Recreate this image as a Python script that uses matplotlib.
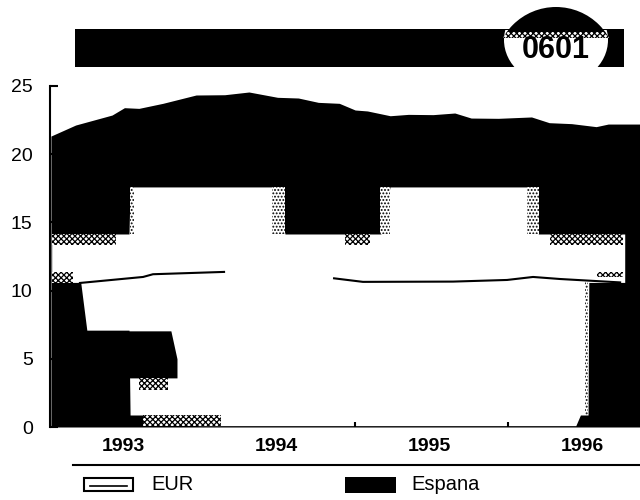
import matplotlib
matplotlib.use('Agg')
import matplotlib.pyplot as plt
import matplotlib.patches as mpatches

plt.rcParams['font.family'] = ['Liberation Sans', 'DejaVu Sans']
plt.rcParams['hatch.linewidth'] = 0.9

years = [1993, 1994, 1995, 1996]
y_ticks = [0, 5, 10, 15, 20, 25]

# gorna krawedz czarnego pola
espana_x = [1992.525, 1992.687, 1992.925, 1993.006, 1993.101, 1993.258, 1993.475, 1993.662, 1993.821,
            1994.008, 1994.144, 1994.275, 1994.412, 1994.516, 1994.596, 1994.745, 1994.864, 1995.026,
            1995.168, 1995.275, 1995.453, 1995.670, 1995.786, 1995.932, 1996.093, 1996.172, 1996.383]
espana_y = [21.33, 22.14, 22.87, 23.41, 23.36, 23.73, 24.34, 24.36, 24.56,
            24.17, 24.12, 23.8, 23.73, 23.24, 23.17, 22.82, 22.92, 22.9,
            23.02, 22.65, 22.63, 22.73, 22.31, 22.24, 22.02, 22.21, 22.21]

# biale pole
hole_x = [1992.53, 1992.72, 1992.76, 1993.036, 1993.043, 1993.482, 1993.487, 1993.972, 1994.008, 1994.057,
          1994.684, 1994.744, 1995.646, 1995.715, 1995.96, 1995.99, 1996.04, 1996.045, 1996.28]
hole_lo = [10.6, 10.6, 7.1, 7.1, 0.88, 0.88, 0.1, 0.1, 0.1, 0.1,
           0.1, 0.1, 0.1, 0.1, 0.1, 0.88, 0.88, 10.6, 10.6]
hole_hi = [14.15, 14.15, 14.15, 14.15, 17.6, 17.6, 17.6, 17.6, 16.5, 14.15,
           14.15, 17.6, 17.6, 14.15, 14.15, 14.15, 14.15, 14.15, 14.15]

# czarny blok pod biala belka
block_x = [1993.02, 1993.31, 1993.35]
block_lo = [3.6, 3.6, 3.6]
block_hi = [7.05, 7.05, 5.0]

# ciemny raster: x0, x1, y0, y1
dark_x0 = [1992.53, 1992.53, 1993.128, 1993.10, 1994.45, 1995.79, 1996.10]
dark_x1 = [1992.95, 1992.67, 1993.64, 1993.29, 1994.61, 1996.27, 1996.27]
dark_lo = [13.35, 10.55, 0.1, 2.7, 13.35, 13.35, 11.0]
dark_hi = [14.15, 11.35, 0.88, 3.6, 14.15, 14.15, 11.35]

# jasny raster na krawedziach
light_x0 = [1993.04, 1993.97, 1994.68, 1995.64, 1996.02]
light_x1 = [1993.07, 1994.06, 1994.745, 1995.72, 1996.04]
light_lo = [14.15, 14.15, 14.15, 14.15, 0.88]
light_hi = [17.6, 17.6, 17.6, 17.6, 10.6]

eur1_x = [1992.715, 1993.128, 1993.193, 1993.658]
eur1_y = [10.56, 11.0, 11.2, 11.37]
eur2_x = [1994.378, 1994.567, 1995.156, 1995.51, 1995.68, 1995.857, 1996.25]
eur2_y = [10.9, 10.64, 10.66, 10.78, 11.0, 10.85, 10.6]

spike_x = [1994.515, 1995.516]

fig = plt.figure(figsize=(6.4, 5), dpi=100)
ax = fig.add_axes([50 / 640, 73 / 500, 590 / 640, 341 / 500])

ax.fill_between(espana_x, 0, espana_y, color='black', lw=0)
ax.fill_between(hole_x, hole_lo, hole_hi, color='white', lw=0)
ax.fill_between(block_x, block_lo, block_hi, color='black', lw=0)
for i in range(len(dark_x0)):
    ax.fill_between([dark_x0[i], dark_x1[i]], dark_lo[i], dark_hi[i],
                    facecolor='white', edgecolor='black', hatch='xxxxxx', lw=0)
for i in range(len(light_x0)):
    ax.fill_between([light_x0[i], light_x1[i]], light_lo[i], light_hi[i],
                    facecolor='white', edgecolor='black', hatch='.....', lw=0)
ax.plot(eur1_x, eur1_y, color='black', lw=1.5)
ax.plot(eur2_x, eur2_y, color='black', lw=1.5)
ax.vlines(spike_x, 0, 0.4, color='black', lw=1.5)

ax.set_xlim(1992.519, 1996.38)
ax.set_ylim(0, 25)
ax.set_xticks(years)
ax.set_xticklabels(years, fontweight='bold', fontsize=14)
ax.set_yticks(y_ticks)
ax.tick_params(axis='x', length=0, pad=8)
ax.tick_params(axis='y', direction='in', length=6, width=1.5, labelsize=14, pad=12.5)
for s in ['top', 'right', 'bottom']:
    ax.spines[s].set_visible(False)
ax.spines['left'].set_linewidth(1.5)

# naglowek i legenda w pikselach
ov = fig.add_axes([0, 0, 1, 1], zorder=5)
ov.set_xlim(0, 640)
ov.set_ylim(500, 0)
ov.axis('off')

ov.add_patch(mpatches.Rectangle((75, 29), 549, 38, color='black', lw=0))
gap = mpatches.Ellipse((556, 40), 104, 90, color='white', lw=0)
ov.add_patch(gap)
gap.set_clip_path(mpatches.Rectangle((490, 30), 130, 38, transform=ov.transData))
dome = mpatches.Circle((556, 68), 61, color='black', lw=0)
ov.add_patch(dome)
dome.set_clip_path(mpatches.Rectangle((490, 0), 130, 33, transform=ov.transData))
band = mpatches.Circle((556, 68), 61, facecolor='white', edgecolor='black', hatch='xxxxxx', lw=0)
ov.add_patch(band)
band.set_clip_path(mpatches.Rectangle((490, 32), 130, 6, transform=ov.transData))
ov.text(556, 50, '0601', fontsize=22, fontweight='bold', ha='center', va='center')

ov.plot([73, 640], [465, 465], color='black', lw=1.5)
ov.add_patch(mpatches.Rectangle((84, 478), 49, 13, facecolor='white', edgecolor='black', lw=1.5))
ov.plot([90, 127], [486, 486], color='black', lw=1.2)
ov.text(151, 484, 'EUR', fontsize=14.5, va='center')
ov.add_patch(mpatches.Rectangle((345, 477), 51, 16, color='black', lw=0))
ov.text(411, 484, 'Espana', fontsize=14.5, va='center')

fig.savefig('out.png', dpi=100)
